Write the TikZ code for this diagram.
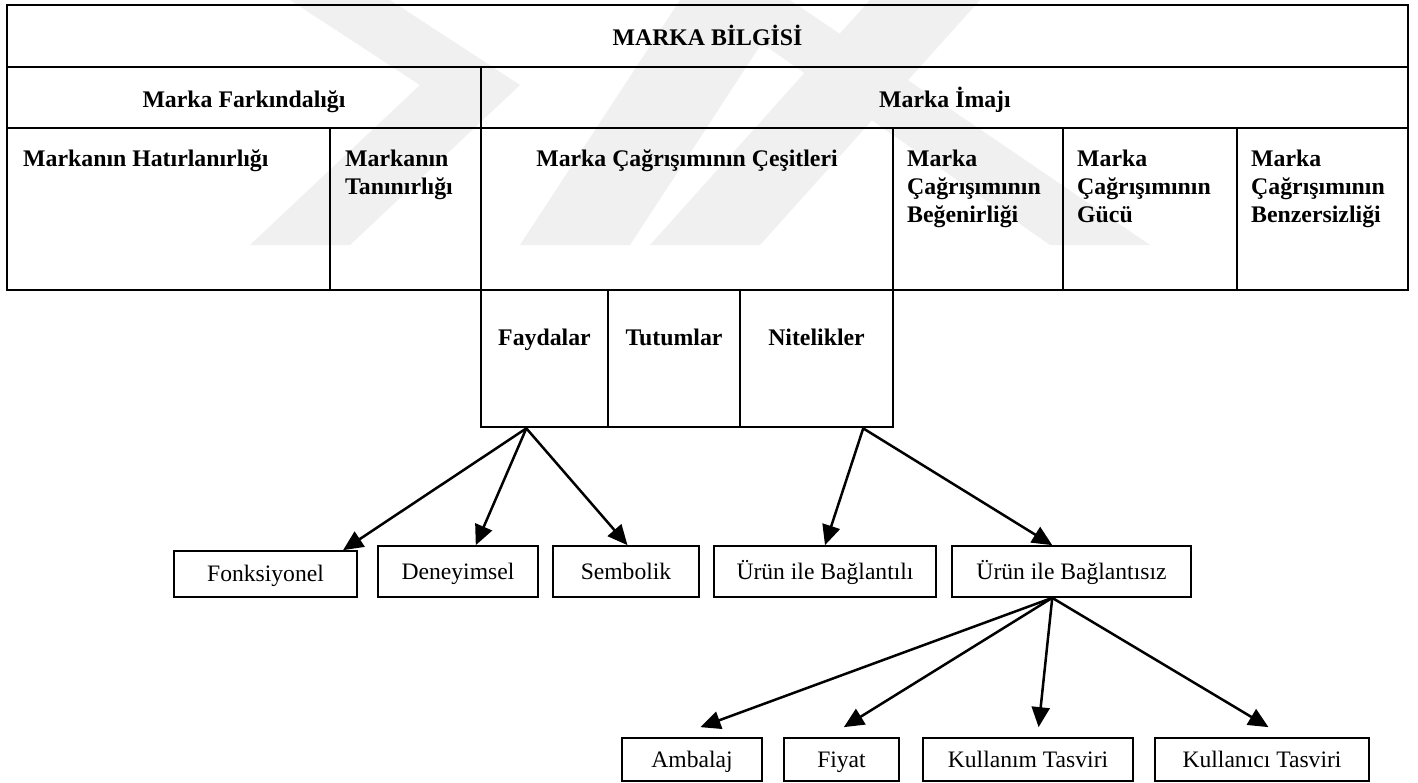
\documentclass[tikz,border=0pt]{standalone}
\usepackage{fontspec}
\setmainfont{Liberation Serif}
\usetikzlibrary{arrows.meta,calc}
\begin{document}
\begin{tikzpicture}[x=1pt,y=-1pt,
  wm/.style={fill=black!6, draw=none},
  tbl/.style={line width=2.7pt, line cap=rect},
  hd/.style={font=\fontsize{23.8}{28}\selectfont\bfseries, inner sep=0pt},
  cell/.style={hd, anchor=north west, align=left},
  subcell/.style={draw, line width=2.7pt, inner sep=0pt, minimum height=137pt, minimum width=#1,
     font=\fontsize{23.8}{28}\selectfont\bfseries, text height=17pt, text depth=44pt},
  leaf/.style={draw, line width=1.7pt, inner sep=0pt, font=\fontsize{23.6}{28}\selectfont,
     text height=17pt, text depth=2pt},
  arr/.style={line width=2.5pt, -{Triangle[length=20pt,width=18pt]}},
]
\useasboundingbox (0,0) rectangle (1418,782);
\fill[white] (0,0) rectangle (1418,782);
% faint watermark
\fill[wm] (290,0) -- (390,0) -- (520,85) -- (350,245) -- (250,245) -- (420,85) -- cycle;
\fill[wm] (680,0) -- (790,0) -- (630,245) -- (520,245) -- cycle;
\fill[wm] (870,0) -- (980,0) -- (760,245) -- (650,245) -- cycle;
\fill[wm] (700,0) -- (790,0) -- (1150,245) -- (1050,245) -- cycle;

% main table grid
\draw[tbl] (7,5) rectangle (1408,290);
\draw[tbl] (7,67) -- (1408,67);
\draw[tbl] (7,128) -- (1408,128);
\draw[tbl] (481,67) -- (481,290);
\draw[tbl] (330,128) -- (330,290);
\draw[tbl] (893,128) -- (893,290);
\draw[tbl] (1063,128) -- (1063,290);
\draw[tbl] (1237,128) -- (1237,290);

\node[hd, anchor=base] (bilgi) at (707.5,45) {MARKA BİLGİSİ};
\node[hd, anchor=base] (fark) at (244,107) {Marka Farkındalığı};
\node[hd, anchor=base] (imaj) at (945,107) {Marka İmajı};
\node[cell] (hatir) at (23,145) {\rule{0pt}{21pt}Markanın Hatırlanırlığı};
\node[cell] (tanin) at (345,145) {\rule{0pt}{21pt}Markanın\\Tanınırlığı};
\node[hd, anchor=base] (cesit) at (687,166) {Marka Çağrışımının Çeşitleri};
\node[cell] (begen) at (907,145) {\rule{0pt}{21pt}Marka\\Çağrışımının\\Beğenirliği};
\node[cell] (guc) at (1077,145) {\rule{0pt}{21pt}Marka\\Çağrışımının\\Gücü};
\node[cell] (benz) at (1251,145) {\rule{0pt}{21pt}Marka\\Çağrışımının\\Benzersizliği};

% sub table
\node[subcell=127pt] (fayd) at (544.5,358.5) {Faydalar};
\node[subcell=132pt] (tutum) at (674,358.5) {Tutumlar};
\node[subcell=153pt] (nitel) at (816.5,358.5) {Nitelikler};

% leaves
\node[leaf, minimum width=183pt, minimum height=46pt] (fonk) at (265.5,574) {Fonksiyonel};
\node[leaf, minimum width=160pt, minimum height=51pt] (deney) at (458,571.5) {Deneyimsel};
\node[leaf, minimum width=146pt, minimum height=51pt] (semb) at (626,571.5) {Sembolik};
\node[leaf, minimum width=222pt, minimum height=51pt] (bagli) at (825,571.5) {Ürün ile Bağlantılı};
\node[leaf, minimum width=239pt, minimum height=51pt] (bagsiz) at (1071.5,571.5) {Ürün ile Bağlantısız};

\node[leaf, minimum width=140pt, minimum height=43pt] (amb) at (692,759.5) {Ambalaj};
\node[leaf, minimum width=115pt, minimum height=43pt] (fiyat) at (841.5,759.5) {Fiyat};
\node[leaf, minimum width=210pt, minimum height=43pt] (kulm) at (1028,759.5) {Kullanım Tasviri};
\node[leaf, minimum width=214pt, minimum height=43pt] (kulc) at (1262,759.5) {Kullanıcı Tasviri};

% arrow origins
\coordinate (o1) at ($(fayd.south west)!0.36!(fayd.south east)$);
\coordinate (o2) at ($(nitel.south west)!0.80!(nitel.south east)$);
\coordinate (o3) at ($(bagsiz.south west)!0.42!(bagsiz.south east)$);

\draw[arr] (o1) -- ($(fonk.north west)!0.92!(fonk.north east)$);
\draw[arr] (o1) -- ($(deney.north west)!0.61!(deney.north east)$);
\draw[arr] (o1) -- ($(semb.north west)!0.51!(semb.north east)$);
\draw[arr] (o2) -- ($(bagli.north west)!0.50!(bagli.north east)$);
\draw[arr] (o2) -- ($(bagsiz.north west)!0.42!(bagsiz.north east)$);

\draw[arr] (o3) -- ($(amb.north west)!0.56!(amb.north east)+(0,-10)$);
\draw[arr] (o3) -- ($(fiyat.north west)!0.52!(fiyat.north east)+(0,-10)$);
\draw[arr] (o3) -- ($(kulm.north west)!0.55!(kulm.north east)+(0,-10)$);
\draw[arr] (o3) -- ($(kulc.north west)!0.53!(kulc.north east)+(0,-10)$);
\end{tikzpicture}
\end{document}
